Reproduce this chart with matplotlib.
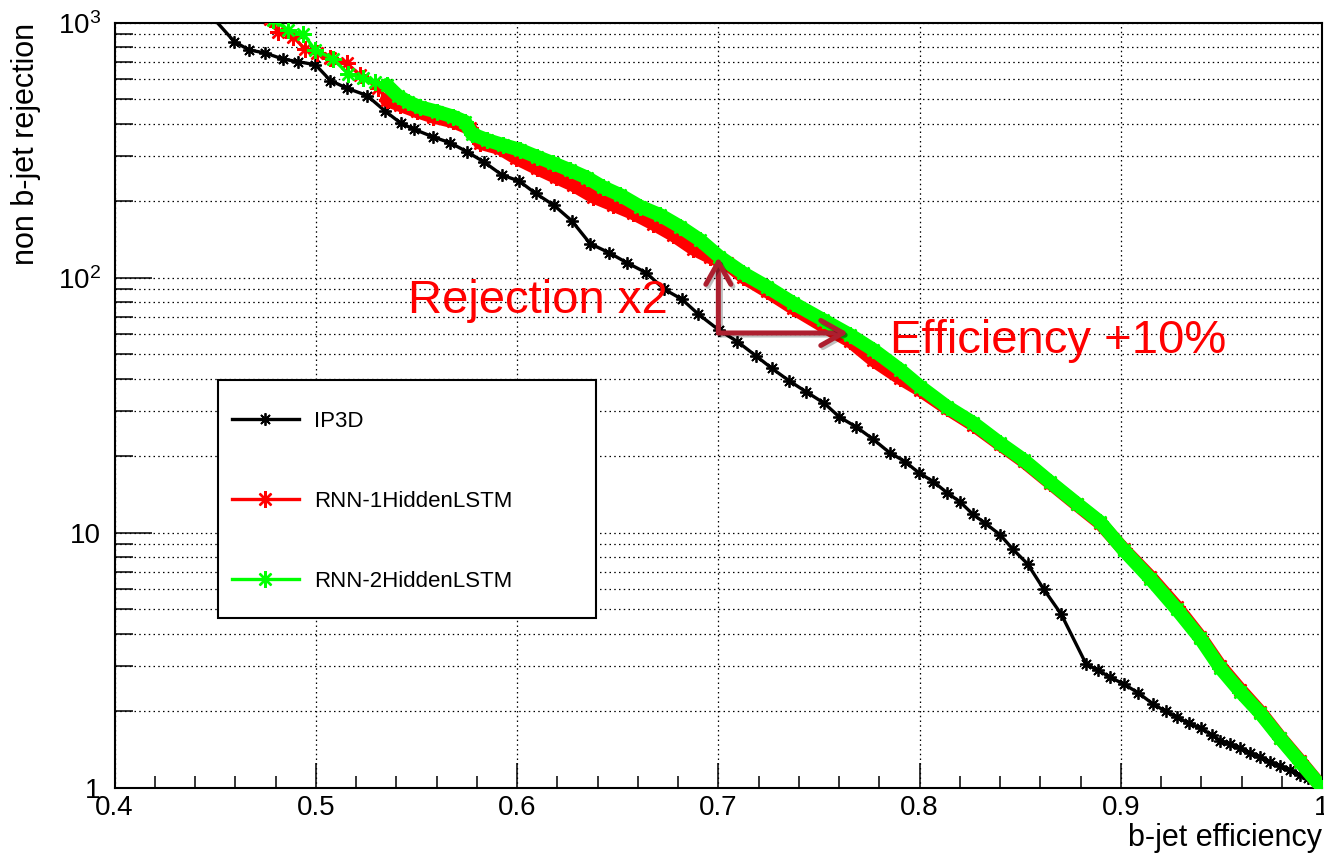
import numpy as np
import matplotlib
matplotlib.use('Agg')
import matplotlib.pyplot as plt
import matplotlib.patheffects as pe
from matplotlib.patches import Rectangle
from matplotlib.ticker import (MultipleLocator, FixedLocator, FixedFormatter,
                               LogLocator, NullFormatter)

plt.rcParams['font.family'] = ['Liberation Sans', 'DejaVu Sans']
plt.rcParams['mathtext.fontset'] = 'custom'
plt.rcParams['mathtext.rm'] = 'Liberation Sans'
plt.rcParams['mathtext.it'] = 'Liberation Sans:italic'

# IP3D (black)
eff_ip3d = [0.445, 0.4595, 0.4669, 0.4747, 0.4838, 0.4911, 0.4998, 0.5072, 0.5155, 0.5254,
            0.5344, 0.5423, 0.5488, 0.5580, 0.5667, 0.5750, 0.5836, 0.5924, 0.6011, 0.6092,
            0.6184, 0.6272, 0.6363, 0.6459, 0.6545, 0.6641, 0.6731, 0.6819, 0.6901, 0.7002,
            0.7095, 0.7188, 0.7266, 0.7352, 0.7436, 0.7526, 0.7602, 0.7685, 0.7768, 0.7851,
            0.7928, 0.7995, 0.8069, 0.8136, 0.8202, 0.8265, 0.8326, 0.8401, 0.8464, 0.8537,
            0.8616, 0.8704, 0.8828, 0.8886, 0.8948, 0.9014, 0.9085, 0.9160, 0.9224, 0.9279,
            0.9337, 0.9398, 0.9453, 0.9494, 0.9544, 0.9594, 0.9643, 0.9693, 0.9743, 0.9792,
            0.9842, 0.9892, 0.9932, 0.9976, 1.0]
rej_ip3d = [1130, 842, 781, 761, 719, 703, 684, 593, 553, 518,
            450, 403, 382, 357, 338, 312, 284, 253, 239, 214,
            192, 167, 136, 125, 114.5, 104.6, 90.1, 82.3, 71.9, 62.4,
            56.1, 49.3, 44.1, 39.4, 35.7, 32.2, 28.4, 26.0, 23.3, 20.6,
            19.0, 17.2, 15.85, 14.35, 13.2, 11.8, 10.9, 9.8, 8.61, 7.54,
            6.02, 4.79, 3.05, 2.89, 2.71, 2.55, 2.36, 2.13, 1.99, 1.89,
            1.79, 1.71, 1.61, 1.53, 1.48, 1.43, 1.37, 1.32, 1.26, 1.22,
            1.17, 1.12, 1.09, 1.04, 1.0]

# RNN-1HiddenLSTM (red)
eff_rnn1 = [0.4772, 0.4813, 0.4888, 0.4946, 0.5004, 0.5070, 0.5153, 0.5219, 0.5310, 0.5352,
            0.5418, 0.5501, 0.5584, 0.5683, 0.5766, 0.5816, 0.5915, 0.5995, 0.6098, 0.6194,
            0.6280, 0.6379, 0.6479, 0.6578, 0.6677, 0.6777, 0.6876, 0.6959, 0.7042, 0.7125,
            0.7241, 0.7373, 0.7522, 0.7655, 0.7771, 0.7904, 0.8003, 0.8136, 0.8268, 0.8401,
            0.8517, 0.8649, 0.8782, 0.8898, 0.9014, 0.9147, 0.9279, 0.9395, 0.9494, 0.9594,
            0.9693, 0.9793, 0.9892, 1.0]
rej_rnn1 = [1030, 922, 881, 787, 759, 725, 695, 623, 553, 498,
            476, 450, 428, 410, 385, 338, 322, 295, 269, 248,
            231, 208, 193, 179, 163, 147, 130, 120.5, 114, 100.6,
            88.7, 76, 64.7, 56.5, 47.5, 40.4, 36.3, 30.8, 26.5, 22.2,
            19.1, 15.7, 12.9, 10.9, 8.6, 6.7, 5.1, 3.9, 3.0, 2.42,
            1.98, 1.57, 1.27, 1.0]

# RNN-2HiddenLSTM (green)
eff_rnn2 = [0.4787, 0.4863, 0.4938, 0.4996, 0.5087, 0.5161, 0.5236, 0.5294, 0.5352, 0.5408,
            0.5458, 0.5518, 0.5601, 0.5683, 0.5741, 0.5775, 0.5849, 0.5932, 0.6015, 0.6098,
            0.6180, 0.6263, 0.6346, 0.6429, 0.6512, 0.6611, 0.6711, 0.6810, 0.6909, 0.7004,
            0.7125, 0.7241, 0.7373, 0.7522, 0.7655, 0.7771, 0.7904, 0.8003, 0.8136, 0.8268,
            0.8401, 0.8517, 0.8649, 0.8782, 0.8898, 0.9014, 0.9147, 0.9279, 0.9395, 0.9494,
            0.9594, 0.9693, 0.9793, 0.9892, 1.0]
rej_rnn2 = [1025, 936, 903, 782, 719, 629, 605, 587, 570, 516,
            489, 466, 448, 428, 409, 366, 347, 331, 317, 298,
            281, 264, 247, 226, 211, 190, 176, 158.5, 140.5, 121,
            104, 92.2, 79.4, 68.2, 59.6, 52.1, 43.5, 37.4, 31.2, 26.9,
            22.4, 19.3, 15.8, 13.0, 11.0, 8.55, 6.6, 5.0, 3.85, 2.95,
            2.38, 1.96, 1.56, 1.26, 1.0]

xtick_vals = [0.4, 0.5, 0.6, 0.7, 0.8, 0.9, 1.0]
xtick_labels = ['0.4', '0.5', '0.6', '0.7', '0.8', '0.9', '1']
ytick_vals = [1, 10, 100, 1000]
ytick_labels = ['1', '10', '$10^{2}$', '$10^{3}$']

star = (8, 2, 0)
red = '#ff0000'
green = '#00ff00'
arrow_col = '#ad1f2f'

fig = plt.figure(figsize=(13.24, 8.55), dpi=100)
ax = fig.add_axes([0.0866, 0.0787, 0.9119, 0.8948])

ax.plot(eff_ip3d, rej_ip3d, color='black', lw=2.4, marker=star, ms=9, mew=1.3,
        label='IP3D', zorder=3)

for eff, rej, col, lab in [(eff_rnn1, rej_rnn1, red, 'RNN-1HiddenLSTM'),
                           (eff_rnn2, rej_rnn2, green, 'RNN-2HiddenLSTM')]:
    eff = np.array(eff)
    rej = np.array(rej)
    dense = eff >= 0.535
    ax.plot(eff[dense], rej[dense], color=col, lw=10, solid_capstyle='round',
            solid_joinstyle='round', zorder=3)
    ax.plot(eff, rej, color=col, lw=2.4, marker=star, ms=12, mew=1.7,
            label=lab, zorder=3)

ax.set_xlim(0.4, 1.0)
ax.set_yscale('log')
ax.set_ylim(1, 1000)

ax.xaxis.set_major_locator(FixedLocator(xtick_vals))
ax.xaxis.set_major_formatter(FixedFormatter(xtick_labels))
ax.xaxis.set_minor_locator(MultipleLocator(0.02))
ax.yaxis.set_major_locator(FixedLocator(ytick_vals))
ax.yaxis.set_major_formatter(FixedFormatter(ytick_labels))
ax.yaxis.set_minor_locator(LogLocator(base=10, subs=np.arange(2, 10)))
ax.yaxis.set_minor_formatter(NullFormatter())

ax.tick_params(axis='both', which='both', direction='in', width=1.1, labelsize=20,
               top=False, right=False)
ax.tick_params(axis='x', which='major', length=18, pad=5)
ax.tick_params(axis='x', which='minor', length=8.6)
ax.tick_params(axis='y', which='major', length=26.6, pad=10)
ax.tick_params(axis='y', which='minor', length=13)

dots = (0, (1.2, 2.6))
ax.set_axisbelow(True)
ax.grid(True, which='major', axis='x', color='black', linestyle=dots, lw=0.9)
ax.grid(True, which='both', axis='y', color='black', linestyle=dots, lw=0.9)

for s in ax.spines.values():
    s.set_linewidth(1.5)

ax.set_xlabel('b-jet efficiency', fontsize=22, loc='right', labelpad=2)
ax.set_ylabel('non b-jet rejection', fontsize=22, loc='top', labelpad=12)

# legend box drawn as a plain rectangle, entries placed inside it
ax.add_patch(Rectangle((0.0856, 0.2218), 0.3131, 0.3111, transform=ax.transAxes,
                       facecolor='white', edgecolor='black', lw=1.5, zorder=6))
leg = ax.legend(loc='center left', bbox_to_anchor=(0.0972, 0.3745),
                borderaxespad=0, fontsize=16, borderpad=0,
                labelspacing=2.65, handlelength=3.0, handletextpad=0.7, numpoints=1,
                frameon=False)
leg.set_zorder(7)

# annotations
ax.text(0.5458, 72.5, 'Rejection x2', color=red, fontsize=34, ha='left', va='baseline')
ax.text(0.7854, 50.5, 'Efficiency +10%', color=red, fontsize=34, ha='left', va='baseline')
shadow = [pe.SimpleLineShadow(offset=(1.5, -1.5), alpha=0.25), pe.Normal()]
for tip in [(0.7, 120.5), (0.7645, 60.7)]:
    a = ax.annotate('', xy=tip, xytext=(0.7, 60.7),
                    arrowprops=dict(arrowstyle='->,head_length=0.8,head_width=0.45',
                                    color=arrow_col, lw=3.6, shrinkA=0, shrinkB=0,
                                    mutation_scale=20), zorder=5)
    a.arrow_patch.set_path_effects(shadow)

fig.savefig('out.png', dpi=100)
